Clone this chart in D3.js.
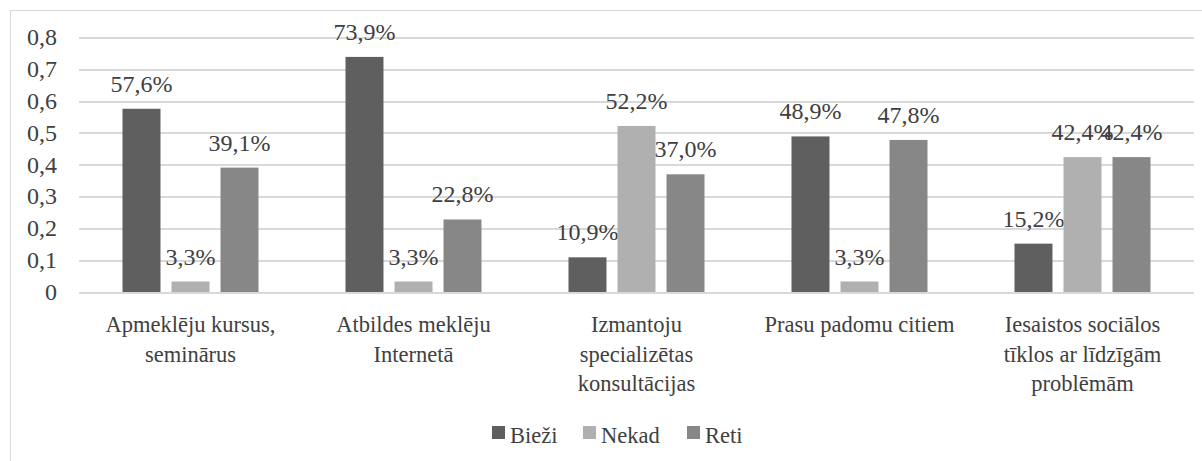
<!DOCTYPE html>
<meta charset="utf-8">
<body style="margin:0">
<script src="https://cdn.jsdelivr.net/npm/d3@7"></script>
<script>

	// data
	var categories = [
		["Apmeklēju kursus,", "seminārus"],
		["Atbildes meklēju", "Internetā"],
		["Izmantoju", "specializētas", "konsultācijas"],
		["Prasu padomu citiem"],
		["Iesaistos sociālos", "tīklos ar līdzīgām", "problēmām"]
	];
	var seriesNames = ["Bieži", "Nekad", "Reti"];
	var biezi = [0.576, 0.739, 0.109, 0.489, 0.152];
	var nekad = [0.033, 0.033, 0.522, 0.033, 0.424];
	var reti  = [0.391, 0.228, 0.370, 0.478, 0.424];
	var yTicks = [0, 0.1, 0.2, 0.3, 0.4, 0.5, 0.6, 0.7, 0.8];

	var seriesValues = [biezi, nekad, reti];
	var colors = d3.scaleOrdinal().domain(seriesNames).range(["#5f5f5f", "#b0b0b0", "#878787"]);
	var FONT = "'Liberation Serif'";
	var TXT = "#404040";

	var W = 1202, H = 461;
	var margin = {top: 37.5, right: 8, bottom: 169, left: 79};
	var width = W - margin.left - margin.right;
	var height = H - margin.top - margin.bottom;

	var root = d3.select("body").append("svg")
		.attr("width", W).attr("height", H);

	// outer frame
	root.append("rect")
		.attr("x", 10.5).attr("y", 10.5)
		.attr("width", W).attr("height", H)
		.attr("fill", "none").attr("stroke", "#d9d9d9");

	var svg = root.append("g")
		.attr("transform", "translate(" + margin.left + "," + margin.top + ")");

	var x0 = d3.scaleBand().domain(d3.range(categories.length)).range([0, width]);
	var x1 = d3.scaleBand().domain(seriesNames).range([-68, 68]).paddingInner(0.225);
	var y = d3.scaleLinear().domain([0, 0.8]).range([height, 0]);

	// grid lines
	svg.append("g").selectAll("line")
		.data(yTicks)
		.enter().append("line")
		.attr("x1", 0).attr("x2", width)
		.attr("y1", function(d) { return Math.round(y(d)) + 0.5; })
		.attr("y2", function(d) { return Math.round(y(d)) + 0.5; })
		.attr("stroke", "#d9d9d9").attr("stroke-width", 2);

	// y axis labels, placed from the scale
	svg.append("g").selectAll("text")
		.data(yTicks)
		.enter().append("text")
		.attr("x", -22)
		.attr("y", function(d) { return y(d); })
		.attr("dy", "0.33em")
		.attr("text-anchor", "end")
		.attr("font-size", 24)
		.style("font-family", FONT)
		.attr("fill", TXT)
		.text(function(d) { return d === 0 ? "0" : d3.format(".1f")(d).replace(".", ","); });

	// bars
	var groups = svg.append("g").selectAll("g")
		.data(categories)
		.enter().append("g")
		.attr("transform", function(d, i) { return "translate(" + (x0(i) + x0.bandwidth() / 2) + ",0)"; });

	var cells = groups.selectAll("g")
		.data(function(d, i) { return seriesNames.map(function(k, j) { return {key: k, value: seriesValues[j][i]}; }); })
		.enter().append("g");

	cells.append("rect")
		.attr("x", function(d) { return x1(d.key); })
		.attr("y", function(d) { return y(d.value); })
		.attr("width", x1.bandwidth())
		.attr("height", function(d) { return y(0) - y(d.value); })
		.attr("fill", function(d) { return colors(d.key); });

	cells.append("text")
		.attr("x", function(d) { return x1(d.key) + x1.bandwidth() / 2; })
		.attr("y", function(d) { return y(d.value) - 17; })
		.attr("text-anchor", "middle")
		.attr("font-size", 24)
		.style("font-family", FONT)
		.attr("fill", TXT)
		.text(function(d) { return d3.format(".1f")(d.value * 100).replace(".", ",") + "%"; });

	// category labels
	var catLabels = svg.append("g").selectAll("text")
		.data(categories)
		.enter().append("text")
		.attr("text-anchor", "middle")
		.attr("font-size", 22.5)
		.style("font-family", FONT)
		.attr("fill", TXT)
		.attr("transform", function(d, i) { return "translate(" + (x0(i) + x0.bandwidth() / 2) + "," + (height + 40) + ")"; });
	catLabels.selectAll("tspan")
		.data(function(d) { return d; })
		.enter().append("tspan")
		.attr("x", 0)
		.attr("y", function(d, i) { return i * 29.5; })
		.text(function(d) { return d; });

	// legend
	var legend = root.append("g").attr("transform", "translate(492,443)");
	var legendX = [0, 91, 195];
	seriesNames.forEach(function(k, i) {
		legend.append("rect")
			.attr("x", legendX[i]).attr("y", -17)
			.attr("width", 13).attr("height", 13)
			.attr("fill", colors(k));
		legend.append("text")
			.attr("x", legendX[i] + 18).attr("y", 0)
			.attr("font-size", 22.5)
			.style("font-family", FONT)
			.attr("fill", TXT)
			.text(k);
	});

</script>
</body>
